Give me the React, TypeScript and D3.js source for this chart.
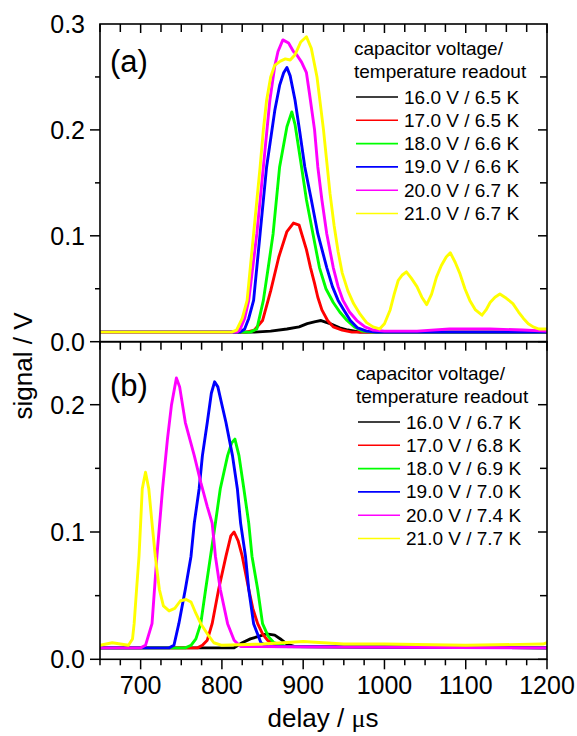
import React from 'react';
import * as d3 from 'd3';

type Pt = [number, number];

const seriesColors = ['#000000', '#ff0000', '#00ff00', '#0000ff', '#ff00ff', '#ffff00'];
const legendTitle = ['capacitor voltage/', 'temperature readout'];
const legendA = ['16.0 V / 6.5 K', '17.0 V / 6.5 K', '18.0 V / 6.6 K', '19.0 V / 6.6 K', '20.0 V / 6.7 K', '21.0 V / 6.7 K'];
const legendB = ['16.0 V / 6.7 K', '17.0 V / 6.8 K', '18.0 V / 6.9 K', '19.0 V / 7.0 K', '20.0 V / 7.4 K', '21.0 V / 7.7 K'];
const panelLabels = ['(a)', '(b)'];

// panel (a): delay (µs), signal (V)
const a16: Pt[] = [[650, .009], [840, .009], [860, .010], [880, .012], [895, .014], [905, .017], [915, .019], [922, .02], [933, .017], [945, .013], [955, .011], [970, .009], [1200, .009]];
const a17: Pt[] = [[650, .009], [830, .009], [840, .011], [850, .02], [860, .048], [870, .08], [880, .104], [888, .112], [895, .11], [904, .087], [909, .07], [914, .055], [918, .042], [923, .03], [930, .02], [937, .014], [948, .011], [960, .009], [1200, .009]];
const a18: Pt[] = [[650, .009], [835, .009], [843, .012], [851, .039], [857, .07], [863, .102], [871, .165], [880, .203], [886, .217], [890, .205], [894, .185], [898, .165], [904, .134], [912, .102], [920, .07], [928, .05], [937, .037], [945, .028], [954, .02], [963, .014], [973, .01], [985, .009], [1200, .009]];
const a19: Pt[] = [[650, .009], [822, .009], [828, .012], [833, .022], [839, .039], [847, .102], [855, .165], [865, .218], [871, .242], [876, .254], [880, .259], [884, .251], [890, .228], [896, .197], [902, .165], [910, .134], [918, .102], [929, .07], [936, .052], [943, .039], [950, .03], [958, .02], [967, .013], [978, .01], [990, .009], [1200, .009]];
const a20: Pt[] = [[650, .009], [818, .009], [822, .011], [828, .022], [833, .039], [843, .102], [851, .165], [859, .228], [865, .26], [869, .274], [875, .285], [882, .282], [888, .274], [892, .271], [898, .264], [904, .254], [908, .233], [914, .2], [918, .165], [923, .134], [929, .102], [937, .07], [943, .052], [949, .039], [957, .028], [966, .02], [976, .014], [986, .011], [1000, .01], [1040, .01], [1080, .012], [1130, .012], [1170, .011], [1200, .01]];
const a21: Pt[] = [[650, .009], [812, .009], [818, .011], [825, .022], [831, .039], [839, .102], [847, .165], [851, .2], [855, .228], [860, .25], [865, .261], [872, .265], [878, .267], [884, .266], [890, .271], [897, .283], [904, .288], [910, .277], [917, .25], [921, .225], [925, .2], [929, .17], [933, .14], [938, .11], [943, .085], [948, .065], [955, .048], [962, .036], [970, .026], [978, .018], [986, .014], [994, .012], [1000, .017], [1007, .03], [1012, .045], [1017, .058], [1022, .063], [1027, .066], [1033, .06], [1040, .052], [1046, .042], [1052, .035], [1058, .045], [1064, .061], [1070, .072], [1076, .08], [1081, .084], [1087, .075], [1093, .064], [1099, .05], [1105, .039], [1112, .03], [1120, .025], [1125, .03], [1130, .037], [1136, .042], [1142, .045], [1150, .041], [1158, .036], [1165, .028], [1171, .022], [1177, .017], [1183, .014], [1190, .012], [1200, .012]];

// panel (b)
const b16: Pt[] = [[650, .009], [815, .009], [825, .013], [835, .016], [845, .018], [855, .02], [865, .019], [872, .016], [880, .012], [890, .01], [1200, .009]];
const b17: Pt[] = [[650, .009], [770, .009], [776, .011], [782, .015], [788, .028], [796, .055], [805, .081], [811, .097], [815, .1], [820, .093], [825, .081], [833, .055], [838, .04], [844, .028], [850, .02], [856, .015], [864, .012], [872, .01], [1200, .009]];
const b18: Pt[] = [[650, .009], [755, .009], [762, .011], [768, .016], [774, .028], [780, .055], [786, .081], [792, .107], [798, .134], [807, .16], [812, .17], [816, .173], [821, .16], [827, .134], [833, .107], [837, .081], [844, .055], [850, .028], [857, .018], [864, .013], [880, .01], [1200, .009]];
const b19: Pt[] = [[650, .009], [735, .009], [741, .011], [747, .028], [755, .055], [762, .081], [766, .107], [772, .134], [776, .16], [782, .186], [787, .209], [791, .218], [795, .214], [800, .2], [805, .186], [813, .16], [819, .134], [823, .107], [829, .081], [833, .055], [839, .028], [848, .013], [856, .01], [1200, .009]];
const b20: Pt[] = [[650, .009], [700, .009], [706, .011], [714, .028], [720, .081], [727, .134], [733, .173], [738, .2], [744, .221], [748, .214], [755, .186], [766, .16], [774, .139], [782, .12], [788, .107], [792, .081], [798, .055], [807, .028], [815, .015], [823, .01], [1200, .009]];
const b21: Pt[] = [[650, .011], [665, .013], [675, .012], [685, .011], [690, .016], [692, .028], [695, .055], [698, .081], [700, .107], [702, .134], [706, .147], [710, .134], [714, .107], [718, .081], [723, .055], [728, .042], [735, .038], [742, .04], [749, .046], [756, .047], [762, .045], [768, .036], [774, .028], [782, .02], [790, .013], [800, .011], [850, .012], [900, .014], [950, .012], [1000, .012], [1100, .011], [1195, .012], [1200, .013]];

const panelAData = [a16, a17, a18, a19, a20, a21];
const panelBData = [b16, b17, b18, b19, b20, b21];

const xDomain: [number, number] = [650, 1200];
const xMajorTicks = [700, 800, 900, 1000, 1100, 1200];
const xMinorStep = 25;
const yTicksA = [0, 0.1, 0.2, 0.3];
const yTicksB = [0, 0.1, 0.2];
const yMinorStep = 0.05;

const FONT = 'Liberation Sans, Arial, Helvetica, sans-serif';

const L = 100, R = 547, TOP = 24, MID = 341.7, BOT = 659.3;

export default function App() {
  const x = d3.scaleLinear().domain(xDomain).range([L, R]);
  const yA = d3.scaleLinear().domain([0, 0.3]).range([MID, TOP]);
  const yB = d3.scaleLinear().domain([0, (BOT - MID) / 1273]).range([BOT, MID]);
  const fmt = d3.format('.1f');
  const xMinor = d3.range(xDomain[0], xDomain[1] + 1, xMinorStep);

  const panel = (
    id: string,
    data: Pt[][],
    y: d3.ScaleLinear<number, number>,
    y0: number,
    y1: number,
    yTicks: number[],
    yMax: number,
    legend: string[],
    legendTop: number,
    legendX: number,
    label: string,
    labelY: number,
    isBottom: boolean,
  ) => {
    const line = d3.line<Pt>().x(d => x(d[0])).y(d => y(d[1]));
    const yMinor = d3.range(0, yMax + 1e-9, yMinorStep).filter(v => y(v) >= y1 + 0.5);
    return (
      <g key={id}>
        <defs>
          <clipPath id={`clip-${id}`}>
            <rect x={L} y={y1} width={R - L} height={y0 - y1} />
          </clipPath>
        </defs>
        <g clipPath={`url(#clip-${id})`}>
          {data.map((s, i) => (
            <path key={i} d={line(s) || ''} fill="none" stroke={seriesColors[i]} strokeWidth={2.9} strokeLinejoin="round" />
          ))}
        </g>
        <rect x={L} y={y1} width={R - L} height={y0 - y1} fill="none" stroke="#000" strokeWidth={1.6} />
        {yMinor.map((v, i) => {
          const major = yTicks.some(t => Math.abs(t - v) < 1e-6);
          return <line key={'yl' + i} x1={L - (major ? 10 : 5)} x2={L} y1={y(v)} y2={y(v)} stroke="#000" strokeWidth={1.5} />;
        })}
        {yMinor.map((v, i) => {
          const major = yTicks.some(t => Math.abs(t - v) < 1e-6);
          return <line key={'yr' + i} x1={R - (major ? 9 : 7)} x2={R} y1={y(v)} y2={y(v)} stroke="#000" strokeWidth={1.5} />;
        })}
        {yTicks.map((t, i) => (
          <text key={'ytl' + i} x={85} y={y(t)} dy="0.36em" textAnchor="end" fontFamily={FONT} fontSize={25}>{fmt(t)}</text>
        ))}
        {xMinor.map((v, i) => {
          const major = xMajorTicks.includes(v);
          return <line key={'xt' + i} x1={x(v)} x2={x(v)} y1={y1} y2={y1 + (major ? 9 : 8)} stroke="#000" strokeWidth={1.5} />;
        })}
        {isBottom && xMinor.map((v, i) => {
          const major = xMajorTicks.includes(v);
          return <line key={'xb' + i} x1={x(v)} x2={x(v)} y1={y0} y2={y0 + (major ? 10 : 6)} stroke="#000" strokeWidth={1.5} />;
        })}
        {isBottom && xMajorTicks.map((t, i) => (
          <text key={'xtl' + i} x={x(t)} y={694} textAnchor="middle" fontFamily={FONT} fontSize={25}>{t}</text>
        ))}
        <text x={110} y={labelY} fontFamily={FONT} fontSize={31}>{label}</text>
        <text x={legendX - 2} y={legendTop} fontFamily={FONT} fontSize={19}>{legendTitle[0]}</text>
        <text x={legendX - 2} y={legendTop + 23} fontFamily={FONT} fontSize={19}>{legendTitle[1]}</text>
        {legend.map((name, i) => {
          const ly = legendTop + 42 + i * 23.3;
          return (
            <g key={'lg' + i}>
              <line x1={legendX} x2={legendX + 42} y1={ly} y2={ly} stroke={seriesColors[i]} strokeWidth={1.6} />
              <text x={legendX + 48} y={ly + 6.5} fontFamily={FONT} fontSize={19}>{name}</text>
            </g>
          );
        })}
      </g>
    );
  };

  return (
    <svg width={577} height={736} style={{ position: 'absolute', left: 0, top: 0, background: '#fff' }}>
      <rect width={577} height={736} fill="#fff" />
      {panel('a', panelAData, yA, MID, TOP, yTicksA, 0.3, legendA, 55, 356, panelLabels[0], 72, false)}
      {panel('b', panelBData, yB, BOT, MID, yTicksB, 0.2, legendB, 380, 358, panelLabels[1], 396, true)}
      <text x={323} y={727} textAnchor="middle" fontFamily={FONT} fontSize={26}>
        delay / <tspan fontFamily="Liberation Serif, Times New Roman, serif">μ</tspan>s
      </text>
      <text transform="translate(32,366) rotate(-90)" textAnchor="middle" fontFamily={FONT} fontSize={26}>signal / V</text>
    </svg>
  );
}
